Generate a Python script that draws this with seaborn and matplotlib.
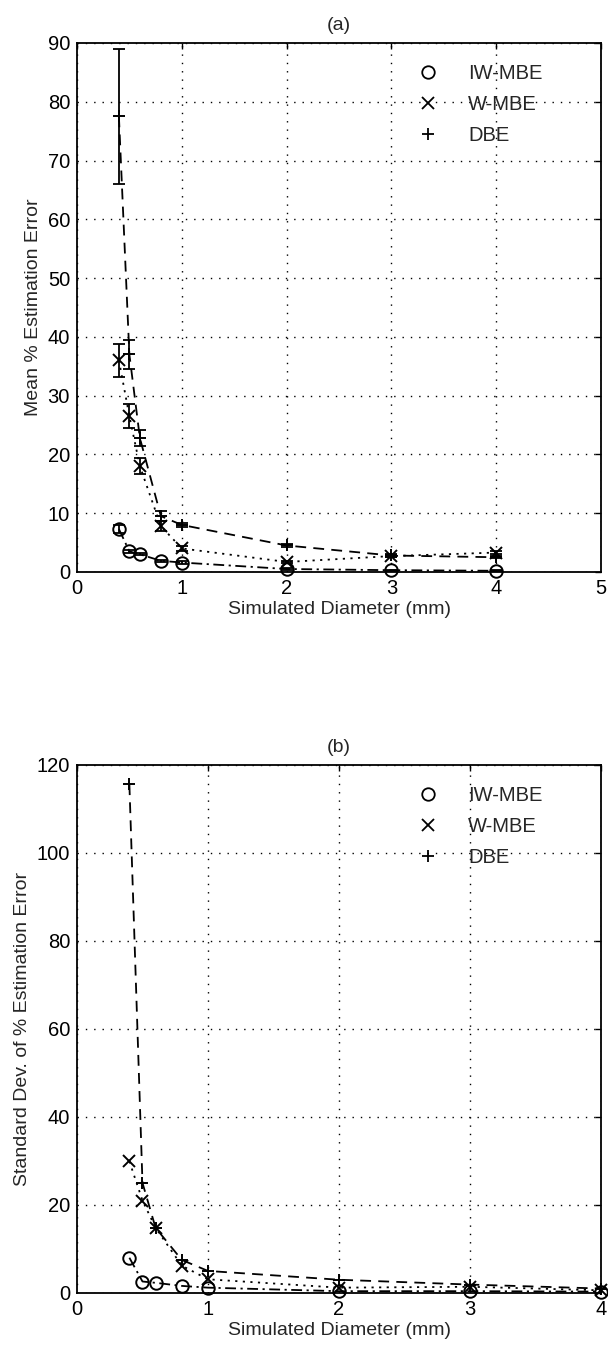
import numpy as np
import pandas as pd
import matplotlib
matplotlib.use("Agg")
import matplotlib.pyplot as plt
from matplotlib.lines import Line2D
import seaborn as sns

# ---------------- data ----------------
diam = [0.4, 0.5, 0.6, 0.8, 1.0, 2.0, 3.0, 4.0]
series = ["IW-MBE", "W-MBE", "DBE"]

# (a) mean % estimation error
mean_iw = [7.3, 3.5, 3.0, 1.9, 1.6, 0.5, 0.3, 0.2]
mean_w = [36.0, 26.5, 18.0, 7.8, 4.0, 1.7, 2.7, 3.3]
mean_dbe = [77.5, 37.0, 22.8, 9.5, 8.0, 4.5, 2.8, 2.5]
err_iw = [0.7, 0.2, 0.2, 0.2, 0.2, 0.1, 0.1, 0.1]
err_w = [2.8, 2.0, 1.4, 0.8, 0.4, 0.2, 0.2, 0.3]
err_dbe = [11.5, 2.5, 1.4, 0.8, 0.3, 0.2, 0.2, 0.2]

# (b) standard deviation of % estimation error
sd_iw = [8.0, 2.6, 2.3, 1.6, 1.2, 0.4, 0.4, 0.3]
sd_w = [29.9, 21.0, 14.8, 6.2, 3.1, 1.2, 1.4, 0.6]
sd_dbe = [115.6, 25.0, 14.8, 7.5, 5.0, 3.0, 1.9, 1.0]

markers = ["o", "x", "+"]
styles = [(0, (6, 2.5, 1.2, 2.5)), (0, (1.2, 3)), (0, (6, 4))]

sns.set_style("white")
plt.rcParams["font.family"] = ["Liberation Sans", "DejaVu Sans"]
plt.rcParams["font.size"] = 14

fig = plt.figure(figsize=(6.08, 13.55), dpi=100)
axa = fig.add_axes([0.1266, 0.5779, 0.862, 0.3904])
axb = fig.add_axes([0.1266, 0.0458, 0.862, 0.3897])

def draw(ax, ys, errs, ylim, yticks, xlim, xticks, ylabel, title):
    for y, e, m, ls in zip(ys, errs, markers, styles):
        df = pd.DataFrame({"x": diam, "y": y})
        sns.lineplot(data=df, x="x", y="y", ax=ax, color="black",
                     linestyle=ls, linewidth=1.3, estimator=None, sort=False)
        if e is not None:
            ax.errorbar(diam, y, yerr=e, fmt="none", ecolor="black",
                        elinewidth=1.3, capsize=4.5, capthick=1.3)
        ax.plot(diam, y, linestyle="none", marker=m, markersize=9,
                markerfacecolor="none", markeredgecolor="black",
                markeredgewidth=1.4, clip_on=False, zorder=5)
    ax.set_xlim(*xlim)
    ax.set_ylim(*ylim)
    ax.set_xticks(xticks)
    ax.set_yticks(yticks)
    ax.grid(True, color="black", linestyle=(0, (1, 5)), linewidth=1.0)
    for s in ax.spines.values():
        s.set_visible(True)
        s.set_color("black")
        s.set_linewidth(1.3)
    ax.tick_params(direction="in", length=4, width=1.0, top=True, right=True,
                   labelsize=14.5, pad=5, colors="black")
    ax.set_xlabel("Simulated Diameter (mm)", fontsize=14, labelpad=2)
    ax.set_ylabel(ylabel, fontsize=14, labelpad=4)
    ax.set_title(title, fontsize=14, pad=9)
    handles = [Line2D([], [], linestyle="none", marker=m, markersize=9,
                      markerfacecolor="none", markeredgecolor="black",
                      markeredgewidth=1.3) for m in markers]
    ax.legend(handles, series, loc="upper left", bbox_to_anchor=(0.612, 0.995),
              frameon=False, fontsize=14.5, handlelength=1.2, handletextpad=1.4,
              labelspacing=0.6)

draw(axa, [mean_iw, mean_w, mean_dbe], [err_iw, err_w, err_dbe],
     (0, 90), np.arange(0, 91, 10), (0, 5), np.arange(0, 6, 1),
     "Mean % Estimation Error", "(a)")
draw(axb, [sd_iw, sd_w, sd_dbe], [None, None, None],
     (0, 120), np.arange(0, 121, 20), (0, 4), np.arange(0, 5, 1),
     "Standard Dev. of % Estimation Error", "(b)")

fig.savefig("out.png", dpi=100)
